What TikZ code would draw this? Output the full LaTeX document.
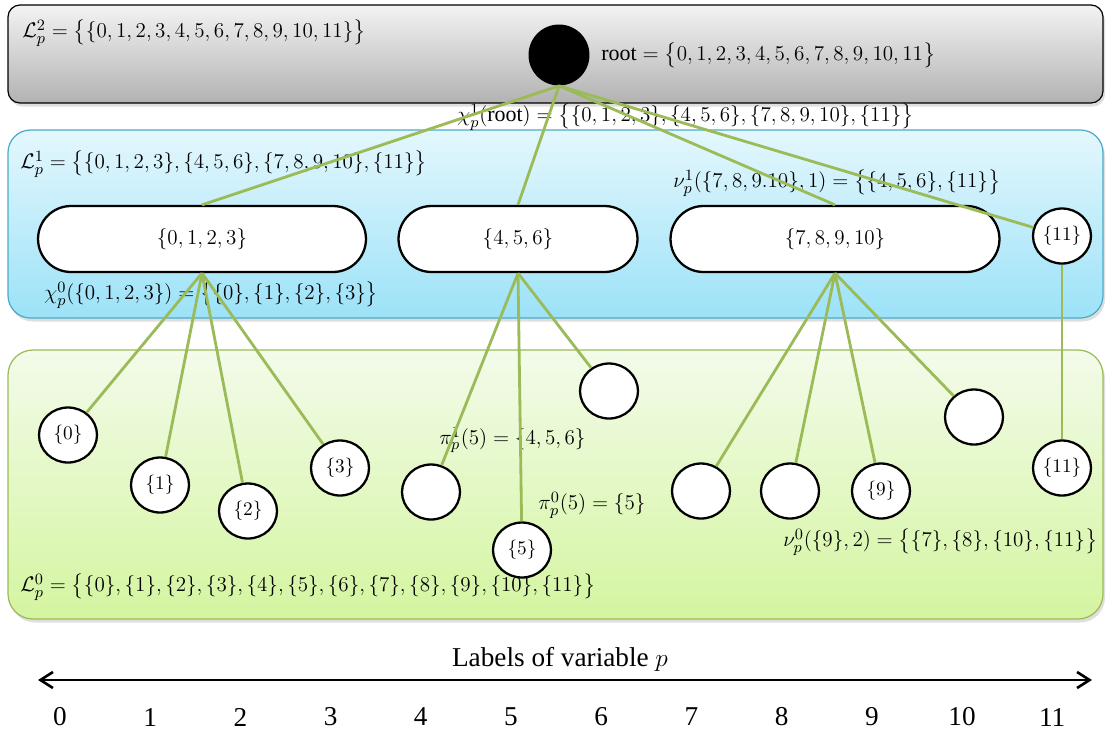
\documentclass[tikz,border=0pt]{standalone}
\usepackage{amsmath}
\usepackage{fontspec}
\setmainfont{Liberation Serif}
\usetikzlibrary{shapes.geometric,shadows,arrows.meta}

% serif figures in formulas too
\DeclareSymbolFont{numerals}{TU}{\rmdefault}{m}{n}
\DeclareMathSymbol{0}{\mathalpha}{numerals}{`0}
\DeclareMathSymbol{1}{\mathalpha}{numerals}{`1}
\DeclareMathSymbol{2}{\mathalpha}{numerals}{`2}
\DeclareMathSymbol{3}{\mathalpha}{numerals}{`3}
\DeclareMathSymbol{4}{\mathalpha}{numerals}{`4}
\DeclareMathSymbol{5}{\mathalpha}{numerals}{`5}
\DeclareMathSymbol{6}{\mathalpha}{numerals}{`6}
\DeclareMathSymbol{7}{\mathalpha}{numerals}{`7}
\DeclareMathSymbol{8}{\mathalpha}{numerals}{`8}
\DeclareMathSymbol{9}{\mathalpha}{numerals}{`9}

\definecolor{branch}{RGB}{155,187,89}
\definecolor{greytop}{RGB}{243,243,243}
\definecolor{greybot}{RGB}{178,178,178}
\definecolor{bluetop}{RGB}{228,247,253}
\definecolor{bluebot}{RGB}{156,226,248}
\definecolor{blueline}{RGB}{75,172,198}
\definecolor{greentop}{RGB}{243,251,234}
\definecolor{greenbot}{RGB}{212,245,160}

\tikzset{
  layerbox/.style={line width=0.7pt,drop shadow={opacity=0.25,shadow xshift=0.04cm,shadow yshift=-0.07cm}},
  setnode/.style={ellipse,draw,fill=white,line width=1.3pt,inner sep=0pt,
    minimum width=1.16cm,minimum height=1.1cm,font=\fontsize{10.5}{12}\selectfont},
  pill/.style={rectangle,draw,fill=white,line width=1.3pt,rounded corners=0.66cm,
    minimum height=1.32cm,font=\fontsize{12}{14}\selectfont},
  lab/.style={anchor=west,inner sep=0pt,font=\fontsize{12.5}{15}\selectfont},
  branch/.style={draw=branch,line width=1.6pt},
  tick/.style={font=\fontsize{15.5}{18}\selectfont}
}

\begin{document}
\begin{tikzpicture}[x=0.02cm,y=-0.02cm]
\useasboundingbox (0,0) rectangle (1106,731);

% Levels of the partition tree
\draw[layerbox,top color=greytop,bottom color=greybot,rounded corners=0.24cm] (8,5) rectangle (1103,103);
\draw[layerbox,draw=blueline,top color=bluetop,bottom color=bluebot,rounded corners=0.45cm] (8,130) rectangle (1103,318);
\draw[layerbox,draw=branch,top color=greentop,bottom color=greenbot,rounded corners=0.5cm] (8,350) rectangle (1103,619);

% Level 2
\node[ellipse,fill=black,minimum width=1.22cm,minimum height=1.22cm,inner sep=0pt] (root) at (559,55) {};
\node[lab] (L2) at (22,33) {$\mathcal{L}_p^2=\bigl\{\{0,1,2,3,4,5,6,7,8,9,10,11\}\bigr\}$};
\node[lab] (rootset) at (601,55) {$\mathrm{root}=\bigl\{0,1,2,3,4,5,6,7,8,9,10,11\bigr\}$};
\node[lab] (chiroot) at (457,117) {$\chi_p^1(\mathrm{root})=\bigl\{\{0,1,2,3\},\{4,5,6\},\{7,8,9,10\},\{11\}\bigr\}$};

% Level 1
\node[lab] (L1) at (20,164) {$\mathcal{L}_p^1=\bigl\{\{0,1,2,3\},\{4,5,6\},\{7,8,9,10\},\{11\}\bigr\}$};
\node[lab] (nu1) at (673,183) {$\nu_p^1(\{7,8,9.10\},1)=\bigl\{\{4,5,6\},\{11\}\bigr\}$};
\node[lab] (chi0) at (44,295) {$\chi_p^0(\{0,1,2,3\})=\bigl\{\{0\},\{1\},\{2\},\{3\}\bigr\}$};
\node[pill,minimum width=6.56cm] (s0) at (202,239) {$\{0,1,2,3\}$};
\node[pill,minimum width=4.78cm] (s4) at (518,239) {$\{4,5,6\}$};
\node[pill,minimum width=6.58cm] (s7) at (835,239) {$\{7,8,9,10\}$};
\node[setnode] (b11) at (1062,236) {$\{11\}$};

% Level 0
\node[lab] (pi1) at (439,440) {$\pi_p^1(5)=\{4,5,6\}$};
\node[lab] (pi0) at (538,505) {$\pi_p^0(5)=\{5\}$};
\node[lab] (nu0) at (783,542) {$\nu_p^0(\{9\},2)=\bigl\{\{7\},\{8\},\{10\},\{11\}\bigr\}$};
\node[lab] (L0) at (20,587) {$\mathcal{L}_p^0=\bigl\{\{0\},\{1\},\{2\},\{3\},\{4\},\{5\},\{6\},\{7\},\{8\},\{9\},\{10\},\{11\}\bigr\}$};
\node[setnode] (p0) at (68,435) {$\{0\}$};
\node[setnode] (p1) at (160,485) {$\{1\}$};
\node[setnode] (p2) at (248,511) {$\{2\}$};
\node[setnode] (p3) at (340,468) {$\{3\}$};
\node[setnode] (p4) at (431,492) {};
\node[setnode] (p5) at (522,550) {$\{5\}$};
\node[setnode] (p6) at (609,391) {};
\node[setnode] (p7) at (701,491) {};
\node[setnode] (p8) at (790,491) {};
\node[setnode] (p9) at (881,491) {$\{9\}$};
\node[setnode] (p10) at (974,417) {};
\node[setnode] (p11) at (1062,468) {$\{11\}$};

% Tree edges
\draw[branch] (root.south) -- (s0.north);
\draw[branch] (root.south) -- (s4.north);
\draw[branch] (root.south) -- (s7.north);
\draw[branch] (root.south) -- (b11);
\foreach \c in {p0,p1,p2,p3} \draw[branch] (s0.south) -- (\c);
\foreach \c in {p4,p5,p6} \draw[branch] (s4.south) -- (\c);
\foreach \c in {p7,p8,p9,p10} \draw[branch] (s7.south) -- (\c);
\draw[branch] (b11.south) -- (p11.north);

% Label axis
\coordinate (axl) at (38,680);
\coordinate (axr) at (1092,680);
\draw[line width=1.5pt,{Straight Barb[length=2.5mm,width=3.2mm]}-{Straight Barb[length=2.5mm,width=3.2mm]}] (axl) -- (axr);
\node[tick] (axlab) at (560,659) {Labels of variable $p$};
\foreach \n in {0,...,11}
  \node[tick] (n\n) at ({60+90.2*\n},717) {\n};

\end{tikzpicture}
\end{document}
